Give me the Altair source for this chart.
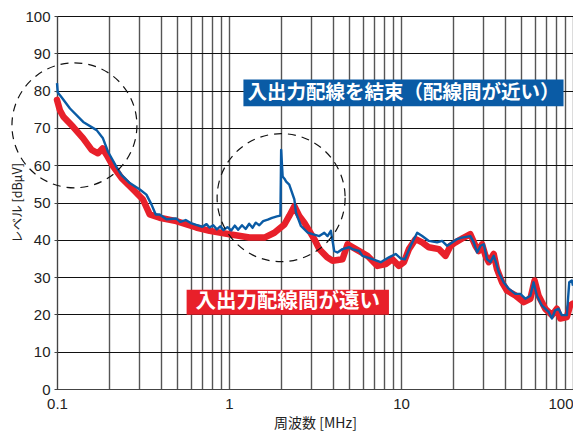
import altair as alt
import pandas as pd

# ---- data ----
blue_freq = [0.100, 0.101, 0.106, 0.119, 0.142, 0.170, 0.185, 0.198, 0.222, 0.237, 0.265,
             0.303, 0.331, 0.354, 0.375, 0.395, 0.433, 0.494, 0.52, 0.56, 0.60, 0.645,
             0.70, 0.74, 0.77, 0.81, 0.85, 0.89, 0.93, 0.98, 1.03, 1.08, 1.13, 1.19, 1.25,
             1.31, 1.37, 1.43, 1.50, 1.58, 1.68, 1.78, 1.90, 1.99, 2.01, 2.05, 2.10, 2.15,
             2.24, 2.40, 2.45, 2.62, 2.87, 3.06, 3.35, 3.58, 3.74, 3.91, 4.09, 4.27, 4.57,
             5.00, 5.22, 5.71, 5.97, 6.82, 7.62, 8.51, 9.31, 9.95, 10.54, 11.38, 12.42,
             13.28, 14.52, 16.22, 17.34, 18.54, 19.82, 21.19, 22.6, 25.3, 26.5, 27.7, 29.0,
             30.3, 31.6, 33.1, 34.6, 35.6, 37.0, 39.5, 42.3, 46.2, 49.4, 52.8, 56.5, 59.0,
             61.7, 65.9, 72.1, 75.4, 78.8, 82.4, 86.1, 92.1, 95.1, 98.4, 100.0]
blue_level = [82.0, 79.5, 78.3, 75.2, 71.6, 69.4, 67.2, 63.6, 59.5, 57.4, 55.2,
              53.5, 52.1, 49.5, 46.8, 46.8, 45.5, 45.7, 44.8, 45.3, 44.5, 44.0,
              43.5, 44.2, 43.3, 43.9, 42.8, 43.6, 42.6, 43.4, 42.5, 43.8, 42.7, 43.9, 42.9,
              44.3, 43.2, 44.6, 43.9, 45.0, 45.4, 45.9, 46.3, 46.5, 64.1, 57.0, 56.4, 55.6,
              54.8, 50.8, 47.3, 43.7, 41.9, 41.5, 41.0, 41.9, 41.0, 42.4, 37.0, 36.6, 37.5,
              38.0, 37.5, 37.0, 35.7, 34.8, 34.0, 35.3, 36.2, 35.0, 34.8, 38.4, 41.9,
              41.0, 39.7, 39.3, 39.7, 38.4, 39.3, 40.2, 40.6, 41.0, 39.3, 36.6, 38.4,
              38.8, 34.8, 34.0, 35.7, 34.0, 31.3, 28.6, 26.9, 25.5, 25.5, 24.2, 25.0, 28.6,
              25.0, 22.4, 20.7, 18.9, 21.1, 21.5, 19.8, 19.8, 28.6, 29.1, 27.7]

red_freq = [0.100, 0.104, 0.109, 0.124, 0.142, 0.159, 0.173, 0.184, 0.194, 0.212, 0.237,
            0.277, 0.316, 0.346, 0.395, 0.494, 0.645, 0.771, 1.007, 1.315, 1.607, 1.836,
            2.10, 2.24, 2.40, 2.56, 2.74, 2.93, 3.13, 3.35, 3.72, 4.00, 4.57, 4.89, 5.46,
            6.38, 7.29, 8.15, 8.91, 9.73, 10.40, 11.12, 12.16, 13.28, 14.52, 16.60, 18.15,
            19.41, 20.75, 23.2, 25.3, 27.1, 28.3, 29.6, 31.0, 32.4, 34.6, 36.1, 38.7, 41.3,
            46.2, 51.7, 56.5, 59.8, 63.1, 69.0, 75.4, 80.6, 84.3, 92.1, 96.2, 100.0]
red_level = [77.5, 74.7, 73.0, 70.3, 67.2, 64.1, 63.2, 64.5, 62.8, 59.7, 56.6,
             53.5, 50.8, 46.8, 45.9, 45.0, 43.3, 42.4, 41.5, 40.6, 40.6, 41.9,
             44.1, 46.4, 49.0, 46.4, 44.6, 42.4, 40.2, 37.5, 35.3, 34.4, 34.8, 38.8, 37.5,
             35.7, 33.0, 33.5, 34.8, 33.0, 34.0, 37.5, 40.2, 39.3, 38.0, 37.5, 35.7,
             38.4, 39.3, 40.6, 41.5, 38.4, 37.0, 38.8, 35.7, 34.0, 36.2, 32.2, 28.6, 26.4,
             25.1, 23.3, 24.2, 29.1, 25.0, 21.5, 19.8, 21.5, 18.9, 19.3, 22.4, 22.9]

x_grid_values = [0.1, 0.2, 0.3, 0.4, 0.5, 0.6, 0.7, 0.8, 0.9,
                 1, 2, 3, 4, 5, 6, 7, 8, 9,
                 10, 20, 30, 40, 50, 60, 70, 80, 90, 100]
y_values = [0, 10, 20, 30, 40, 50, 60, 70, 80, 90, 100]

blue_label = "入出力配線を結束（配線間が近い）"
red_label = "入出力配線間が遠い"

# annotation positions (data coordinates)
circle_freq = [0.1263, 2.009]
circle_level = [70.7, 51.3]
circle_size = [15625, 16384]

box_x = [1.213, 0.567]
box_x2 = [88.1, 8.51]
box_y = [83.0, 26.6]
box_y2 = [75.8, 19.9]
box_text_x = [10.34, 2.198]
box_text_y = [79.3, 23.2]
box_texts = [blue_label, red_label]
box_colors = ["#0a5ba5", "#e8202a"]
box_id = ["blue", "red"]

BLUE = "#0a5ba5"
RED = "#e8202a"

blue_df = pd.DataFrame({"f": blue_freq, "v": blue_level})
red_df = pd.DataFrame({"f": red_freq, "v": red_level})
circ_df = pd.DataFrame({"f": circle_freq, "v": circle_level, "s": circle_size})
box_df = pd.DataFrame({"f": box_x, "f2": box_x2, "v": box_y, "v2": box_y2,
                       "c": box_colors, "id": box_id})
text_df = pd.DataFrame({"f": box_text_x, "v": box_text_y, "t": box_texts, "id": box_id})

xscale = alt.Scale(type="log", domain=[0.1, 100], nice=False)
yscale = alt.Scale(domain=[0, 100], nice=False)

xaxis = alt.Axis(values=x_grid_values, format=".1~f",
                 labelExpr="abs(log(datum.value)/LN10 - round(log(datum.value)/LN10)) < 0.001 ? datum.label : ''",
                 labelAlign={"condition": {"test": "datum.value >= 99", "value": "right"},
                             "value": "center"},
                 title="周波数 [MHz]", grid=True, gridColor="#555555", gridWidth=1.4,
                 tickSize=0, labelPadding=7, titlePadding=5, labelOverlap=False,
                 domainColor="#444444", labelFont="Liberation Sans", labelFontSize=15,
                 labelColor="#222222", titleFont="Noto Sans CJK JP", titleFontSize=14,
                 titleFontWeight="normal", titleColor="#222222", labelFlush=False)
yaxis = alt.Axis(values=y_values, title="レベル [dBμV]", grid=True, gridColor="#111111",
                 gridWidth=1, tickSize=3, tickColor="#444444", labelPadding=4,
                 labelOverlap=False, labelSeparation=0,
                 domainColor="#444444", labelFont="Liberation Sans", labelFontSize=15,
                 labelColor="#222222", titleFont="Noto Sans CJK JP", titleFontSize=12.5,
                 titleFontWeight="normal", titleColor="#222222", titlePadding=0)

red_line = alt.Chart(red_df).mark_line(color=RED, strokeWidth=6.5, strokeJoin="round",
                                       strokeCap="round")
blue_line = alt.Chart(blue_df).mark_line(color=BLUE, strokeWidth=2.4, strokeJoin="round")

circles = alt.Chart(circ_df).mark_point(shape="circle", filled=False, color="#111111",
                                        opacity=1, strokeWidth=1.2, strokeDash=[8, 6],
                                        clip=False).encode(
    size=alt.Size("s:Q", scale=None, legend=None))

boxes = alt.Chart(box_df).mark_rect().encode(
    x2="f2:Q", y2="v2:Q",
    color=alt.Color("c:N", scale=None, legend=None))

blue_text = alt.Chart(text_df).transform_filter(alt.datum.id == "blue").mark_text(
    color="white", font="Noto Sans CJK JP", fontWeight="bold", fontSize=19.5,
    align="center", baseline="middle").encode(text="t:N")
red_text = alt.Chart(text_df).transform_filter(alt.datum.id == "red").mark_text(
    color="white", font="Noto Sans CJK JP", fontWeight="bold", fontSize=20.5,
    align="center", baseline="middle").encode(text="t:N")

chart = alt.layer(red_line, blue_line, circles, boxes, blue_text, red_text).encode(
    x=alt.X("f:Q", scale=xscale, axis=xaxis),
    y=alt.Y("v:Q", scale=yscale, axis=yaxis),
).properties(
    width=516, height=373,
    autosize=alt.AutoSizeParams(type="none"),
    padding={"left": 49, "top": 8, "right": 0, "bottom": 42},
).configure_view(stroke="#444444", strokeWidth=1).configure_axis(labelOverlap=False)

chart.save("out.html", embed_options={"renderer": "svg", "actions": False})
